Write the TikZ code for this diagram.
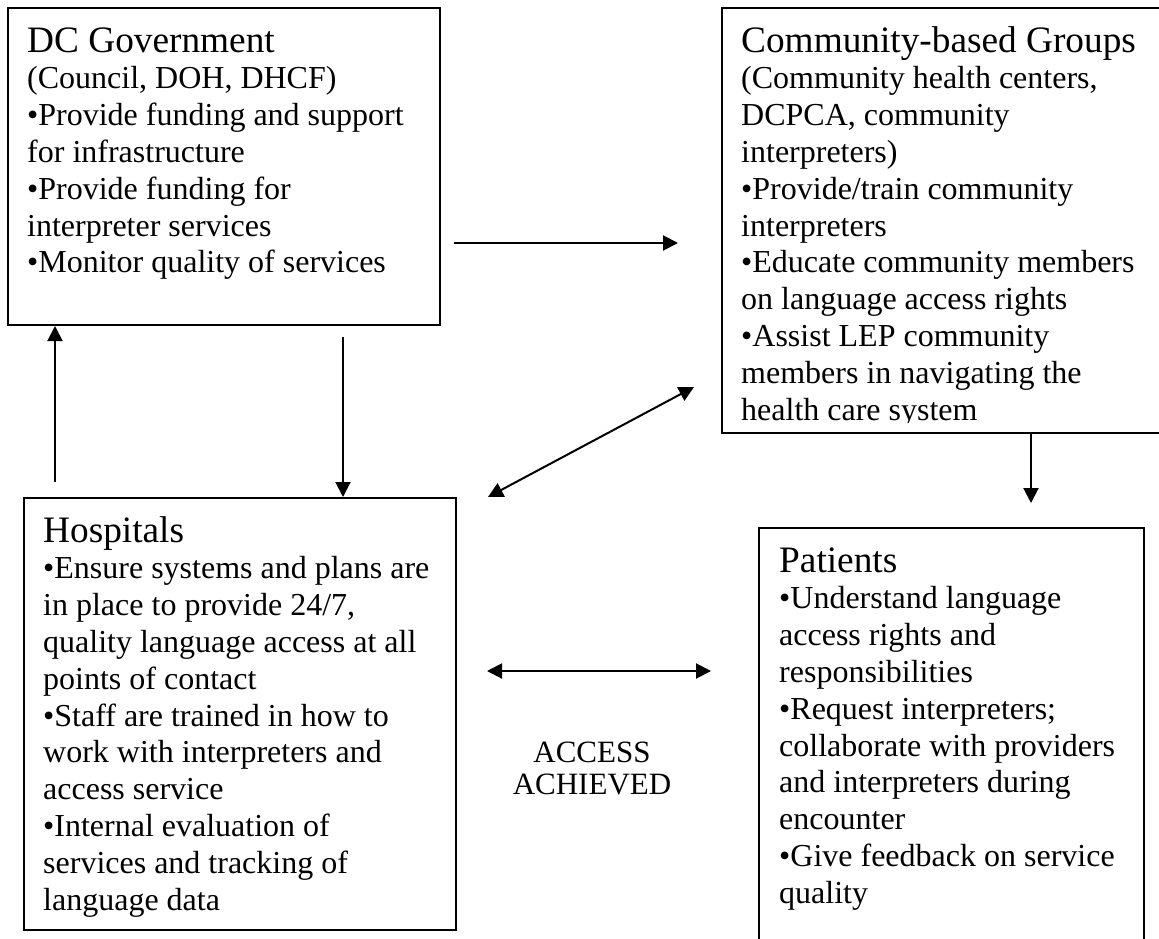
\documentclass[tikz,border=0pt]{standalone}
\usepackage{fontspec}
\setmainfont{Liberation Serif}
\usetikzlibrary{arrows.meta,calc}
\newcommand\mybody{\fontsize{32pt}{36.8pt}\selectfont}
\newcommand\myhead{\fontsize{37.3pt}{38pt}\selectfont}
\newcommand\myaccess{\fontsize{31pt}{32pt}\selectfont}
\newcommand\natsp{\spaceskip=0pt\xspaceskip=0pt\relax}
\tikzset{
  boxshape/.style={draw, line width=2pt, rectangle, inner sep=0pt, anchor=north west},
  boxtext/.style={anchor=base west, text width=440pt, align=left, inner sep=0pt, font=\mybody},
  conn/.style={line width=2pt, -{Triangle[length=15pt,width=15pt]}},
  biconn/.style={line width=2pt, {Triangle[length=15pt,width=15pt]}-{Triangle[length=15pt,width=15pt]}},
}
\begin{document}
\begin{tikzpicture}[x=1pt,y=-1pt]
\useasboundingbox (0,0) rectangle (1159,938);
% boxes
\node[boxshape, minimum width=432pt, minimum height=317pt] (dc) at (7,7) {};
\node[boxshape, minimum width=470pt, minimum height=425pt] (cbg) at (721,7) {};
\node[boxshape, minimum width=432pt, minimum height=432pt] (hosp) at (23,497) {};
\node[boxshape, minimum width=385pt, minimum height=440pt] (pat) at (758,527) {};
% texts
\node[boxtext] (dctext) at (27,52) {\natsp{\myhead DC Government\par}(Council, DOH, DHCF)\\•Provide funding and support\\for infrastructure\\•Provide funding for\\interpreter services\\•Monitor quality of services};
\begin{scope}
\clip (700,0) rectangle (1159,422);
\node[boxtext] (cbgtext) at (741,52) {\natsp{\myhead Community-based Groups\par}(Community health centers,\\DCPCA, community\\interpreters)\\•Provide/train community\\interpreters\\•Educate community members\\on language access rights\\•Assist LEP community\\members in navigating the\\health care system};
\end{scope}
\node[boxtext] (hosptext) at (43,542) {\natsp{\myhead Hospitals\par}•Ensure systems and plans are\\in place to provide 24/7,\\quality language access at all\\points of contact\\•Staff are trained in how to\\work with interpreters and\\access service\\•Internal evaluation of\\services and tracking of\\language data};
\node[boxtext] (pattext) at (779,572) {\natsp{\myhead Patients\par}•Understand language\\access rights and\\responsibilities\\•Request interpreters;\\collaborate with providers\\and interpreters during\\encounter\\•Give feedback on service\\quality};
\node[anchor=base, text width=220pt, align=center, inner sep=0pt, font=\myaccess] (acc) at (592,762) {\natsp ACCESS\\ACHIEVED};
% connectors
\coordinate (a1s) at (454,243);
\coordinate (a1e) at (678,243);
\draw[conn] (a1s) -- (a1e);
\coordinate (upS) at (55,482);
\draw[conn] (upS) -- (upS |- dc.south);
\coordinate (dnS) at (343,337);
\draw[conn] (dnS) -- (dnS |- hosp.north);
\coordinate (cpE) at (1031,503);
\draw[conn] (cpE |- cbg.south) -- (cpE);
\coordinate (dgA) at (488,497);
\coordinate (dgB) at (694,387);
\draw[biconn] (dgA) -- (dgB);
\coordinate (hzA) at (487,671);
\coordinate (hzB) at (711,671);
\draw[biconn] (hzA) -- (hzB);
\end{tikzpicture}
\end{document}
